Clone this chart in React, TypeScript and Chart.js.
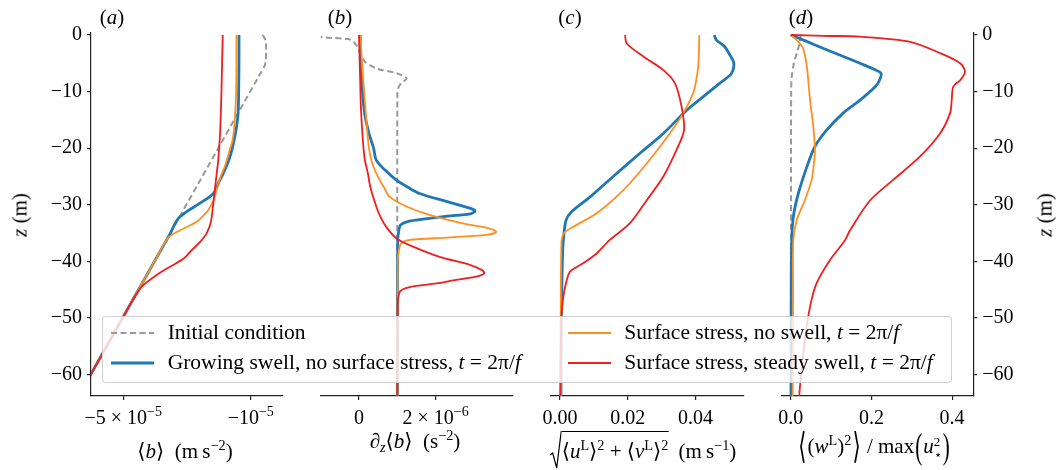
import React, { useEffect, useRef } from 'react';
import { Chart, registerables } from 'chart.js';

Chart.register(...registerables);

const SERIF = '"Liberation Serif", "DejaVu Serif", serif';
const AXIS = '#222222';
const C_INIT = '#999999';
const C_BLUE = '#1f77b4';
const C_ORANGE = '#ff8f1f';
const C_RED = '#ee1f1f';

// ---- shared vertical axis (z, m) ----
const Z_MIN = -63.78;
const Z_MAX = 0.35;
const zTicks = [0, -10, -20, -30, -40, -50, -60];

// ---- panel (a): <b>, in units of 1e-5 m s^-2 ----
const aInitZ = [0, -0.4, -1.2, -3, -4.5, -5.5, -7, -20, -40, -60, -64];
const aInitB = [-0.64, -0.58, -0.53, -0.52, -0.53, -0.57, -0.72, -2.02, -4.02, -6.02, -6.42];
const aBlueZ = [0, -5, -10, -14, -17, -20, -22, -24.4, -26, -28, -29.7, -31.2, -32.4, -33.6, -35, -40, -50, -60, -64];
const aBlueB = [-1.37, -1.37, -1.38, -1.4, -1.47, -1.58, -1.68, -1.86, -2.0, -2.17, -2.59, -3.01, -3.27, -3.4, -3.52, -4.02, -5.02, -6.02, -6.42];
const aOrangeZ = [0, -5, -10, -15, -18.6, -20.3, -23, -25, -27, -29.2, -30.9, -32, -33, -34.2, -35.2, -36, -40, -50, -60, -64];
const aOrangeB = [-1.45, -1.45, -1.46, -1.5, -1.57, -1.66, -1.8, -1.94, -2.05, -2.17, -2.33, -2.5, -2.7, -3.1, -3.45, -3.62, -4.02, -5.02, -6.02, -6.42];
const aRedZ = [0, -10, -17, -22, -26, -30, -33, -35, -36.5, -38, -39.5, -41, -42.4, -44.2, -45.6, -47, -50, -60, -64];
const aRedB = [-1.88, -1.92, -1.96, -2.02, -2.1, -2.18, -2.25, -2.38, -2.58, -2.85, -3.1, -3.55, -3.95, -4.37, -4.56, -4.72, -5.02, -6.02, -6.42];
const aXTicks = [-5, -1];
const aXLabels = [[['−5 × 10', 0], ['−5', 1]], [['−10', 0], ['−5', 1]]];

// ---- panel (b): d<b>/dz, in units of 1e-6 s^-2 ----
const bInitZ = [0, -0.4, -0.8, -1.8, -3.5, -4.7, -5.9, -6.8, -7.7, -8.5, -9.5, -11, -64];
const bInitV = [-1.1, -0.95, -0.24, -0.07, 0.05, 0.15, 0.45, 1.0, 1.24, 1.1, 1.02, 1.0, 1.0];
const bBlueZ = [0, -5, -10, -14, -17.4, -20, -22.1, -24, -25.6, -27, -28, -29.4, -30.6, -31.1, -31.6, -32, -32.4, -33, -33.6, -34.5, -36.2, -64];
const bBlueV = [0.03, 0.05, 0.09, 0.15, 0.26, 0.38, 0.45, 0.7, 0.97, 1.3, 1.58, 2.28, 2.89, 3.03, 2.9, 2.3, 1.84, 1.24, 1.08, 1.04, 1.01, 1.0];
const bOrangeZ = [0, -5, -11.5, -17.4, -20, -22.1, -24, -25.6, -27, -28.6, -30.3, -31.8, -33.3, -34.2, -34.8, -35.3, -35.8, -36.2, -36.8, -38, -40, -64];
const bOrangeV = [0.04, 0.08, 0.15, 0.22, 0.26, 0.32, 0.42, 0.54, 0.66, 0.8, 1.24, 1.84, 2.71, 3.41, 3.58, 3.32, 2.28, 1.32, 1.1, 1.04, 1.01, 1.0];
const bRedZ = [0, -3, -8, -13, -18.6, -22, -24.4, -27, -30.3, -32, -33.9, -35.9, -37.4, -39.2, -40.6, -41.5, -42.1, -42.7, -43.3, -43.9, -44.5, -45, -45.6, -47.4, -64];
const bRedV = [0.0, 0.01, 0.03, 0.05, 0.1, 0.15, 0.23, 0.3, 0.45, 0.55, 0.71, 0.97, 1.41, 2.1, 2.89, 3.2, 3.27, 3.06, 2.5, 2.02, 1.35, 1.12, 1.05, 1.01, 1.0];
const bXTicks = [0, 2];
const bXLabels = [[['0', 0]], [['2 × 10', 0], ['−6', 1]]];

// ---- panel (c): Lagrangian mean speed, m s^-1 ----
const cBlueZ = [0, -0.9, -2, -3.5, -5, -6.8, -8.5, -10.9, -13.3, -17.4, -20.9, -25, -28.6, -31.2, -32.7, -36.2, -40, -50, -64];
const cBlueU = [0.0455, 0.0462, 0.0485, 0.0501, 0.0513, 0.0506, 0.0472, 0.0423, 0.0374, 0.0305, 0.0236, 0.0157, 0.0089, 0.0035, 0.0018, 0.001, 0.0007, 0.0004, 0.0003];
const cOrangeZ = [0, -3, -5.6, -8, -10.3, -13.8, -17.4, -22.7, -27.4, -31.5, -33.9, -35, -37, -64];
const cOrangeU = [0.0411, 0.041, 0.0408, 0.0402, 0.0393, 0.0364, 0.0324, 0.0256, 0.0187, 0.0108, 0.0039, 0.0012, 0.0004, 0.0002];
const cRedZ = [0, -1.5, -3.8, -6.2, -8.5, -12.7, -16.8, -20.3, -25, -29.2, -33.3, -36.2, -38.6, -40.3, -41.8, -43.3, -46.2, -50, -64];
const cRedU = [0.0192, 0.0197, 0.0246, 0.0305, 0.0339, 0.0359, 0.0366, 0.0344, 0.0305, 0.0256, 0.0206, 0.0147, 0.0108, 0.0069, 0.003, 0.002, 0.001, 0.0004, 0.0001];
const cXTicks = [0, 0.02, 0.04];
const cXLabels = [[['0.00', 0]], [['0.02', 0]], [['0.04', 0]]];

// ---- panel (d): normalised vertical velocity variance ----
const dInitZ = [0, -1.5, -3, -5, -7.4, -10, -20, -40, -64];
const dInitW = [0.025, 0.022, 0.016, 0.008, 0.0025, 0.0012, 0.0008, 0.0006, 0.0005];
const dBlueZ = [0, -1, -2.6, -5, -6, -6.8, -8, -9.1, -11.5, -13.8, -16.8, -19.7, -23.3, -28, -32.1, -36.2, -45, -64];
const dBlueW = [0.0, 0.035, 0.089, 0.172, 0.205, 0.224, 0.22, 0.21, 0.172, 0.13, 0.089, 0.06, 0.04, 0.019, 0.0065, 0.0025, 0.0012, 0.0008];
const dOrangeZ = [0, -0.9, -2.4, -5.6, -11.5, -16.2, -20.3, -23, -25.6, -29.2, -32.7, -36.2, -45, -64];
const dOrangeW = [0.0, 0.015, 0.031, 0.04, 0.048, 0.056, 0.06, 0.057, 0.052, 0.035, 0.015, 0.0065, 0.006, 0.005];
const dRedZ = [0, -0.15, -0.3, -1.2, -3.2, -5, -6.5, -8, -9.1, -11.5, -13.8, -17.4, -21.5, -25.6, -29.2, -34.5, -36.2, -39.8, -43.9, -48, -53.9, -62.1, -64];
const dRedW = [0.0, 0.08, 0.172, 0.296, 0.37, 0.42, 0.432, 0.42, 0.403, 0.399, 0.395, 0.37, 0.32, 0.254, 0.197, 0.147, 0.135, 0.097, 0.064, 0.048, 0.035, 0.023, 0.021];
const dXTicks = [0, 0.2, 0.4];
const dXLabels = [[['0.0', 0]], [['0.2', 0]], [['0.4', 0]]];

const INIT_STYLE = { color: C_INIT, width: 2, dash: [6, 3.5], order: 4 };
const BLUE_STYLE = { color: C_BLUE, width: 2.8, dash: [], order: 3 };
const ORANGE_STYLE = { color: C_ORANGE, width: 1.8, dash: [], order: 2 };
const RED_STYLE = { color: C_RED, width: 1.8, dash: [], order: 1 };

const panels = [
  {
    key: 'a', left: 0, width: 295, padLeft: 0, padRight: 12, yAxis: 'left', yAxisWidth: 91,
    xMin: -6.01, xMax: 0.01, xTicks: aXTicks, xLabels: aXLabels,
    series: [
      { z: aInitZ, v: aInitB, ...INIT_STYLE },
      { z: aBlueZ, v: aBlueB, ...BLUE_STYLE },
      { z: aOrangeZ, v: aOrangeB, ...ORANGE_STYLE },
      { z: aRedZ, v: aRedB, ...RED_STYLE },
    ],
  },
  {
    key: 'b', left: 300, width: 222, padLeft: 20.7, padRight: 9.7, yAxis: null, yAxisWidth: 0,
    xMin: -1.0, xMax: 4.0, xTicks: bXTicks, xLabels: bXLabels,
    series: [
      { z: bInitZ, v: bInitV, ...INIT_STYLE },
      { z: bBlueZ, v: bBlueV, ...BLUE_STYLE },
      { z: bOrangeZ, v: bOrangeV, ...ORANGE_STYLE },
      { z: bRedZ, v: bRedV, ...RED_STYLE },
    ],
  },
  {
    key: 'c', left: 530, width: 225, padLeft: 20.7, padRight: 11.7, yAxis: null, yAxisWidth: 0,
    xMin: -0.00274, xMax: 0.0541, xTicks: cXTicks, xLabels: cXLabels,
    series: [
      { z: cBlueZ, v: cBlueU, ...BLUE_STYLE },
      { z: cOrangeZ, v: cOrangeU, ...ORANGE_STYLE },
      { z: cRedZ, v: cRedU, ...RED_STYLE },
    ],
  },
  {
    key: 'd', left: 760, width: 296, padLeft: 21.7, padRight: 0, yAxis: 'right', yAxisWidth: 82.7,
    xMin: -0.0223, xMax: 0.4525, xTicks: dXTicks, xLabels: dXLabels,
    series: [
      { z: dInitZ, v: dInitW, ...INIT_STYLE },
      { z: dBlueZ, v: dBlueW, ...BLUE_STYLE },
      { z: dOrangeZ, v: dOrangeW, ...ORANGE_STYLE },
      { z: dRedZ, v: dRedW, ...RED_STYLE },
    ],
  },
];

function makeRichTickPlugin(values: number[], labels: any[]) {
  return {
    id: 'richTicks',
    afterDraw(chart: any) {
      const ctx = chart.ctx;
      const sx = chart.scales.x;
      const baseline = 423.5;
      ctx.save();
      ctx.fillStyle = '#000';
      ctx.textBaseline = 'alphabetic';
      ctx.textAlign = 'left';
      labels.forEach((parts: any[], i: number) => {
        const cx = sx.getPixelForValue(values[i]);
        const widths = parts.map(([t, sup]) => {
          ctx.font = `${sup ? 14 : 20}px ${SERIF}`;
          return ctx.measureText(t).width;
        });
        const total = widths.reduce((s: number, w: number) => s + w, 0);
        let x = cx - total / 2;
        parts.forEach(([t, sup], j) => {
          ctx.font = `${sup ? 14 : 20}px ${SERIF}`;
          ctx.fillText(t, x, sup ? baseline - 7.5 : baseline);
          x += widths[j];
        });
      });
      ctx.restore();
    },
  };
}

function Panel({ cfg }: { cfg: any }) {
  const ref = useRef<HTMLCanvasElement>(null);
  useEffect(() => {
    const datasets = cfg.series.map((s: any) => ({
      data: s.z.map((z: number, i: number) => ({ x: s.v[i], y: z })),
      borderColor: s.color,
      borderWidth: s.width,
      borderDash: s.dash,
      pointRadius: 0,
      showLine: true,
      fill: false,
      tension: 0.3,
      order: s.order,
      borderJoinStyle: 'round',
      borderCapStyle: 'butt',
    }));
    const chart = new Chart(ref.current as HTMLCanvasElement, {
      type: 'scatter',
      data: { datasets },
      options: {
        animation: false,
        responsive: false,
        maintainAspectRatio: false,
        devicePixelRatio: 1,
        events: [],
        layout: { padding: { left: cfg.padLeft, right: cfg.padRight, top: 33, bottom: 0 } },
        plugins: { legend: { display: false }, tooltip: { enabled: false } },
        scales: {
          x: {
            type: 'linear',
            position: 'bottom',
            min: cfg.xMin,
            max: cfg.xMax,
            afterBuildTicks: (s: any) => {
              s.ticks = cfg.xTicks.map((v: number) => ({ value: v }));
            },
            afterFit: (s: any) => {
              s.height = 74;
            },
            grid: { display: true, drawOnChartArea: false, drawTicks: true, tickLength: 4, color: AXIS, lineWidth: 1.2 },
            border: { display: true, color: AXIS, width: 1.2 },
            ticks: { display: false },
          },
          y: {
            type: 'linear',
            position: cfg.yAxis || 'left',
            display: !!cfg.yAxis,
            min: Z_MIN,
            max: Z_MAX,
            afterBuildTicks: (s: any) => {
              s.ticks = zTicks.map((v) => ({ value: v }));
            },
            afterFit: (s: any) => {
              s.width = cfg.yAxisWidth;
            },
            grid: { display: true, drawOnChartArea: false, drawTicks: true, tickLength: 4, color: AXIS, lineWidth: 1.2 },
            border: { display: true, color: AXIS, width: 1.2 },
            ticks: {
              color: '#000',
              padding: 5,
              font: { family: SERIF, size: 20 },
              callback: (v: any) => String(v).replace('-', '−'),
            },
          },
        },
      } as any,
      plugins: [makeRichTickPlugin(cfg.xTicks, cfg.xLabels)],
    });
    return () => chart.destroy();
  }, []);
  return (
    <canvas
      ref={ref}
      width={cfg.width}
      height={470}
      style={{ position: 'absolute', left: cfg.left, top: 0, width: cfg.width, height: 470 }}
    />
  );
}

const Sup = ({ children }: any) => (
  <span style={{ fontSize: '0.68em', position: 'relative', top: '-0.55em' }}>{children}</span>
);
const Sub = ({ children }: any) => (
  <span style={{ fontSize: '0.68em', position: 'relative', top: '0.3em' }}>{children}</span>
);

const centered = (cx: number, cy: number, extra: any = {}) => ({
  position: 'absolute' as const,
  left: cx,
  top: cy,
  transform: 'translate(-50%, -50%)',
  whiteSpace: 'nowrap' as const,
  lineHeight: 1,
  ...extra,
});

function LegendHandle({ color, width, dash }: any) {
  return (
    <svg width={43} height={8} style={{ display: 'block' }}>
      <line x1={0} y1={4} x2={43} y2={4} stroke={color} strokeWidth={width} strokeDasharray={dash && dash.length ? dash.join(',') : undefined} />
    </svg>
  );
}

const legendItems = [
  { label: <>Initial condition</>, style: INIT_STYLE, col: 0, row: 0 },
  { label: <>Growing swell, no surface stress, <i>t</i> = 2π/<i>f</i></>, style: BLUE_STYLE, col: 0, row: 1 },
  { label: <>Surface stress, no swell, <i>t</i> = 2π/<i>f</i></>, style: ORANGE_STYLE, col: 1, row: 0 },
  { label: <>Surface stress, steady swell, <i>t</i> = 2π/<i>f</i></>, style: RED_STYLE, col: 1, row: 1 },
];

export default function App() {
  const big = (ch: string) => (
    <span style={{ display: 'inline-block', transform: 'scaleY(1.7)', margin: '0 1px' }}>{ch}</span>
  );
  return (
    <div
      style={{
        position: 'absolute',
        left: 0,
        top: 0,
        width: 1056,
        height: 470,
        background: '#fff',
        fontFamily: SERIF,
        fontSize: 21,
        color: '#000',
        overflow: 'hidden',
      }}
    >
      {panels.map((p) => (
        <Panel key={p.key} cfg={p} />
      ))}

      {/* panel letters */}
      <div style={centered(112, 17)}>(<i>a</i>)</div>
      <div style={centered(340, 17)}>(<i>b</i>)</div>
      <div style={centered(570, 17)}>(<i>c</i>)</div>
      <div style={centered(801, 17)}>(<i>d</i>)</div>

      {/* y titles */}
      <div style={centered(20, 215, { transform: 'translate(-50%, -50%) rotate(-90deg)' })}>
        <i>z</i> (m)
      </div>
      <div style={centered(1045, 215, { transform: 'translate(-50%, -50%) rotate(-90deg)' })}>
        <i>z</i> (m)
      </div>

      {/* x titles */}
      <div style={centered(185, 451)}>
        ⟨<i>b</i>⟩&nbsp;&nbsp;(m&thinsp;s<Sup>−2</Sup>)
      </div>
      <div style={centered(415, 441)}>
        ∂<Sub><i>z</i></Sub>⟨<i>b</i>⟩&nbsp;&nbsp;(s<Sup>−2</Sup>)
      </div>
      <div
        style={{
          position: 'absolute',
          left: 643,
          top: 431,
          transform: 'translateX(-50%)',
          display: 'flex',
          alignItems: 'flex-start',
          whiteSpace: 'nowrap',
        }}
      >
        <svg width={12} height={39} style={{ display: 'block' }}>
          <polyline points="0.5,24 3,22 7,37 11.5,0.6 12,0.6" fill="none" stroke="#000" strokeWidth={1.2} />
        </svg>
        <div style={{ borderTop: '1.2px solid #000', paddingTop: 8, lineHeight: '22px' }}>
          ⟨<i>u</i><Sup>L</Sup>⟩<Sup>2</Sup> + ⟨<i>v</i><Sup>L</Sup>⟩<Sup>2</Sup>
        </div>
        <div style={{ paddingTop: 9, lineHeight: '22px', marginLeft: 10 }}>
          (m&thinsp;s<Sup>−1</Sup>)
        </div>
      </div>
      <div style={centered(874, 448)}>
        {big('⟨')}(<i>w</i><Sup>L</Sup>)<Sup>2</Sup>{big('⟩')} / max{big('(')}
        <i>u</i>
        <span
          style={{
            display: 'inline-flex',
            flexDirection: 'column',
            fontSize: '0.62em',
            lineHeight: 1,
            verticalAlign: 'middle',
          }}
        >
          <span>2</span>
          <span>⋆</span>
        </span>
        {big(')')}
      </div>

      {/* legend */}
      <div
        style={{
          position: 'absolute',
          left: 102.3,
          top: 316,
          width: 849.4,
          height: 66.7,
          boxSizing: 'border-box',
          background: 'rgba(255,255,255,0.8)',
          border: '1px solid rgba(204,204,204,0.9)',
          borderRadius: 4,
          fontSize: 21.5,
        }}
      >
        {legendItems.map((it, i) => {
          const top = it.row === 0 ? 16 : 46;
          const handleLeft = it.col === 0 ? 7.7 : 464.4;
          const textLeft = it.col === 0 ? 64.4 : 521;
          return (
            <React.Fragment key={i}>
              <div style={{ position: 'absolute', left: handleLeft, top: top - 4 }}>
                <LegendHandle color={it.style.color} width={it.style.width} dash={it.style.dash} />
              </div>
              <div
                style={{
                  position: 'absolute',
                  left: textLeft,
                  top,
                  transform: 'translateY(-50%)',
                  whiteSpace: 'nowrap',
                  lineHeight: 1,
                }}
              >
                {it.label}
              </div>
            </React.Fragment>
          );
        })}
      </div>
    </div>
  );
}
